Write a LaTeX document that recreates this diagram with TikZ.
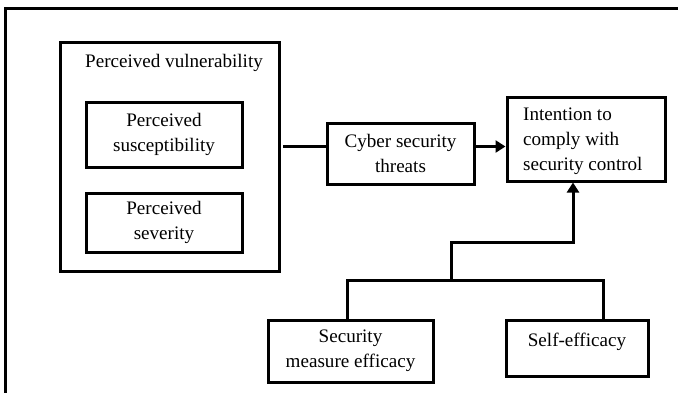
\documentclass[tikz,border=0pt]{standalone}
\usepackage{fontspec}
\setmainfont{Liberation Serif}
\usetikzlibrary{arrows.meta}
\begin{document}
\begin{tikzpicture}[x=1pt,y=-1pt,
  lw/.style={line width=3pt},
  box/.style={draw, lw, inner sep=0pt, align=center, font=\fontsize{19.1}{25}\selectfont},
  txt/.style={inner sep=0pt, align=center, font=\fontsize{19.1}{25}\selectfont},
  conn/.style={lw},
  arr/.style={lw, -{Triangle[length=10pt,width=12pt]}}]
\useasboundingbox (0,0) rectangle (678,392);
% outer frame (only top and left edges visible)
\coordinate (fr1) at (680,8.5);
\coordinate (fr2) at (5.5,8.5);
\coordinate (fr3) at (5.5,394);
\draw[conn] (fr1) -- (fr2) -- (fr3);
% boxes
\node[box, minimum width=219pt, minimum height=229pt] (vul) at (169.5,156.5) {};
\node[txt] (vultxt) at (174,63) {Perceived vulnerability};
\node[box, minimum width=156pt, minimum height=65pt] (sus) at (164,134.5) {Perceived\\susceptibility};
\node[box, minimum width=156pt, minimum height=59pt] (sev) at (164,222.5) {Perceived\\severity};
\node[box, minimum width=147pt, minimum height=61pt] (cyb) at (400.5,153.5) {Cyber security\\threats};
\node[box, minimum width=158pt, minimum height=84pt] (int) at (586,139) {};
\node[txt, align=left, anchor=west] (inttxt) at (523,141) {Intention to\\comply with\\security control};
\node[box, minimum width=165pt, minimum height=62pt] (sme) at (350.5,351) {Security\\measure efficacy};
\node[box, minimum width=142pt, minimum height=56pt] (self) at (577,348) {};
\node[txt] (selftxt) at (577,342) {Self-efficacy};
% connectors
\coordinate (ln) at (283,146.5);
\draw[conn] (ln) -- (cyb.west |- ln);
\draw[arr] (cyb.east |- ln) -- (int.west |- ln);
\coordinate (fkL) at (347,280);
\coordinate (fkM) at (451,280);
\coordinate (fkR) at (603,280);
\coordinate (up1) at (451,242);
\coordinate (up2) at (573,242);
\draw[conn] (sme.north -| fkL) -- (fkL) -- (fkR) -- (self.north -| fkR);
\draw[arr] (fkM) -- (up1) -- (up2) -- (int.south -| up2);
\end{tikzpicture}
\end{document}
